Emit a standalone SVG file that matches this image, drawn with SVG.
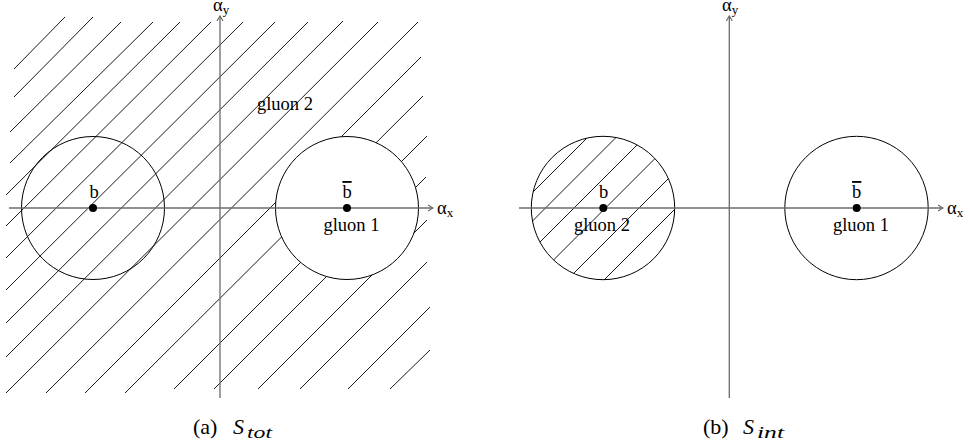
<svg xmlns="http://www.w3.org/2000/svg" width="970" height="448" viewBox="0 0 970 448" font-family="Liberation Serif, Times New Roman, DejaVu Serif, serif">
<defs>
<style>
.h{stroke:#000;stroke-width:0.9;fill:none}
.c{stroke:#000;stroke-width:1;}
.ax{stroke:#6b6b6b;stroke-width:1.3;fill:none}
.lbl{font-size:18.5px}
.sub{font-size:13px}
.cap{font-size:22px}
.capi{font-size:22px;font-style:italic}
.capsub{font-size:16px;font-style:italic}
</style>
<marker id="arr" viewBox="0 0 10 10" refX="9" refY="5" markerWidth="10" markerHeight="10" markerUnits="userSpaceOnUse" orient="auto">
<path d="M4,2 L9,5 L4,8" fill="none" stroke="#6b6b6b" stroke-width="1.2"/>
</marker>
<clipPath id="cl2"><circle cx="603" cy="208" r="71.7"/></clipPath>
</defs>

<g id="panel-a" font-family="Liberation Serif, serif">
<g id="hatch-a" class="h">
<line x1="14" y1="69" x2="65" y2="17"/>
<line x1="14" y1="97" x2="93" y2="17"/>
<line x1="10" y1="132" x2="121" y2="22"/>
<line x1="10" y1="163" x2="153" y2="22"/>
<line x1="6" y1="195" x2="180" y2="22"/>
<line x1="6" y1="226" x2="211" y2="22"/>
<line x1="6" y1="258" x2="243" y2="22"/>
<line x1="6" y1="290" x2="275" y2="22"/>
<line x1="6" y1="323" x2="308" y2="22"/>
<line x1="6" y1="357" x2="343" y2="21"/>
<line x1="6" y1="393" x2="378" y2="22"/>
<line x1="46" y1="393" x2="418" y2="22"/>
<line x1="85" y1="393" x2="421" y2="57"/>
<line x1="125" y1="393" x2="423" y2="96"/>
<line x1="174" y1="389" x2="427" y2="136"/>
<line x1="214" y1="389" x2="426" y2="177"/>
<line x1="258" y1="389" x2="427" y2="220"/>
<line x1="300" y1="389" x2="427" y2="262"/>
<line x1="348" y1="389" x2="430" y2="307"/>
<line x1="390" y1="389" x2="430" y2="350"/>
</g>
<g id="circle-b-a"><circle class="c" cx="93" cy="208" r="71.5" fill="none"/></g>
<g id="circle-bbar-a"><circle class="c" cx="347" cy="208" r="71.5" fill="#fff"/></g>
<g id="axes-a">
<line class="ax" x1="9" y1="208" x2="433" y2="208" marker-end="url(#arr)"/>
<line class="ax" x1="220" y1="398" x2="220" y2="16" marker-end="url(#arr)"/>
<text class="lbl" x="213" y="11">α<tspan class="sub" dy="3">y</tspan></text>
<text class="lbl" x="437" y="214">α<tspan class="sub" dy="3">x</tspan></text>
</g>
<g id="node-b-a">
<circle cx="93" cy="208" r="4" fill="#000"/>
<text class="lbl" x="94" y="198" text-anchor="middle">b</text>
</g>
<g id="node-bbar-a">
<circle cx="347" cy="208" r="4" fill="#000"/>
<text class="lbl" x="347" y="198" text-anchor="middle" text-decoration="overline">b</text>
<text class="lbl" x="351.5" y="231" text-anchor="middle">gluon 1</text>
</g>
<g id="label-gluon2-a">
<text class="lbl" x="285" y="110" text-anchor="middle">gluon 2</text>
</g>
<g id="caption-a">
<text class="cap" x="193" y="434">(a)</text>
<text class="capi" x="233" y="434">S</text>
<text class="capsub" x="247" y="438" textLength="25" lengthAdjust="spacingAndGlyphs">tot</text>
</g>
</g>

<g id="panel-b" font-family="Liberation Serif, serif">
<g id="hatch-b" class="h" clip-path="url(#cl2)">
<line x1="500" y1="225" x2="650" y2="75"/>
<line x1="500" y1="253.5" x2="700" y2="53.5"/>
<line x1="500" y1="282" x2="720" y2="62"/>
<line x1="500" y1="313.5" x2="720" y2="93.5"/>
<line x1="500" y1="347" x2="720" y2="127"/>
<line x1="500" y1="384" x2="720" y2="164"/>
</g>
<g id="circle-b-b"><circle class="c" cx="603" cy="208" r="71.7" fill="none"/></g>
<g id="circle-bbar-b"><circle class="c" cx="856.5" cy="208" r="71.7" fill="none"/></g>
<g id="axes-b">
<line class="ax" x1="519" y1="208" x2="943" y2="208" marker-end="url(#arr)"/>
<line class="ax" x1="729.3" y1="398" x2="729.3" y2="16" marker-end="url(#arr)"/>
<text class="lbl" x="722" y="11">α<tspan class="sub" dy="3">y</tspan></text>
<text class="lbl" x="947" y="214">α<tspan class="sub" dy="3">x</tspan></text>
</g>
<g id="node-b-b">
<circle cx="603.3" cy="208" r="4" fill="#000"/>
<text class="lbl" x="603.5" y="198" text-anchor="middle">b</text>
<text class="lbl" x="602" y="231" text-anchor="middle">gluon 2</text>
</g>
<g id="node-bbar-b">
<circle cx="856.7" cy="208" r="4" fill="#000"/>
<text class="lbl" x="856.7" y="198" text-anchor="middle" text-decoration="overline">b</text>
<text class="lbl" x="861" y="231" text-anchor="middle">gluon 1</text>
</g>
<g id="caption-b">
<text class="cap" x="703" y="434">(b)</text>
<text class="capi" x="743" y="434">S</text>
<text class="capsub" x="757" y="438" textLength="27" lengthAdjust="spacingAndGlyphs">int</text>
</g>
</g>
</svg>
